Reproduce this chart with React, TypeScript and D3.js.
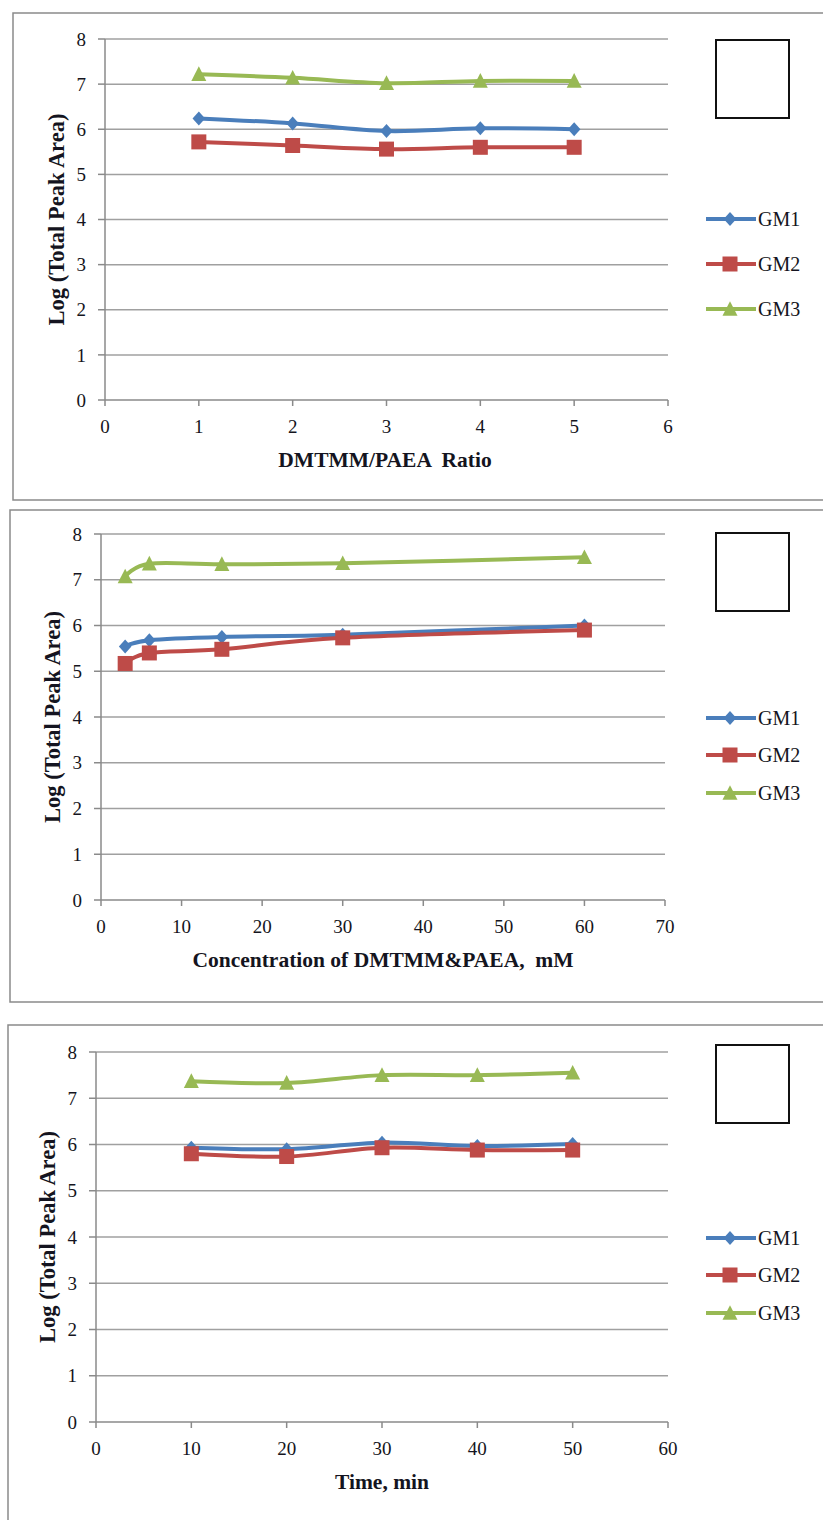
import React from "react";
import * as d3 from "d3";

const seriesNames = ["GM1", "GM2", "GM3"];
const colors = ["#4A7EBB", "#BE4B48", "#98B954"];

// Panel 1: DMTMM/PAEA ratio
const ratioX = [1, 2, 3, 4, 5];
const ratioGM1 = [6.24, 6.13, 5.96, 6.02, 6.0];
const ratioGM2 = [5.72, 5.64, 5.56, 5.6, 5.6];
const ratioGM3 = [7.22, 7.14, 7.02, 7.07, 7.07];
const ratioTicks = [0, 1, 2, 3, 4, 5, 6];

// Panel 2: concentration
const concX = [3, 6, 15, 30, 60];
const concGM1 = [5.54, 5.68, 5.75, 5.8, 6.0];
const concGM2 = [5.17, 5.4, 5.48, 5.73, 5.9];
const concGM3 = [7.07, 7.35, 7.34, 7.36, 7.49];
const concTicks = [0, 10, 20, 30, 40, 50, 60, 70];

// Panel 3: time
const timeX = [10, 20, 30, 40, 50];
const timeGM1 = [5.93, 5.9, 6.04, 5.97, 6.01];
const timeGM2 = [5.8, 5.74, 5.93, 5.88, 5.88];
const timeGM3 = [7.37, 7.33, 7.5, 7.5, 7.55];
const timeTicks = [0, 10, 20, 30, 40, 50, 60];

const yTicks = [0, 1, 2, 3, 4, 5, 6, 7, 8];
const yTitle = "Log (Total Peak Area)";

const FONT = "Liberation Serif, Times New Roman, DejaVu Serif, serif";
const TXT = "#141420";

type PanelProps = {
  frame: [number, number, number, number];
  x0: number; x1: number; y0: number; y1: number;
  xMax: number;
  xTicks: number[];
  xs: number[];
  ys: number[][];
  xTitle: string;
  xTitleX: number;
  legendY: number[];
  boxY: number;
};

function marker(i: number, cx: number, cy: number, color: string, key: string) {
  if (i === 0) {
    const s = 7;
    return <path key={key} d={`M${cx},${cy - s}L${cx + s * 0.9},${cy}L${cx},${cy + s}L${cx - s * 0.9},${cy}Z`} fill={color} />;
  }
  if (i === 1) {
    const s = 7.5;
    return <rect key={key} x={cx - s} y={cy - s} width={2 * s} height={2 * s} fill={color} />;
  }
  const s = 7.5;
  return <path key={key} d={`M${cx},${cy - s * 1.05}L${cx + s},${cy + s * 0.9}L${cx - s},${cy + s * 0.9}Z`} fill={color} />;
}

function Panel(p: PanelProps) {
  const x = d3.scaleLinear().domain([0, p.xMax]).range([p.x0, p.x1]);
  const y = d3.scaleLinear().domain([0, 8]).range([p.y1, p.y0]);
  const line = d3
    .line<[number, number]>()
    .x((d) => x(d[0]))
    .y((d) => y(d[1]))
    .curve(d3.curveCatmullRom.alpha(0));
  const [fx, fy, fw, fh] = p.frame;
  const tickStyle = { fontFamily: FONT, fontSize: "19px", fill: TXT } as React.CSSProperties;
  return (
    <g>
      <rect x={fx} y={fy} width={fw} height={fh} fill="none" stroke="#8a8a8a" strokeWidth={1.5} />
      {yTicks.map((t) => (
        <g key={"y" + t}>
          {t > 0 && <line x1={p.x0} x2={p.x1} y1={y(t)} y2={y(t)} stroke="#a0a0a0" strokeWidth={1.5} />}
          <line x1={p.x0 - 7} x2={p.x0} y1={y(t)} y2={y(t)} stroke="#8a8a8a" strokeWidth={1.5} />
          <text x={p.x0 - 19} y={y(t)} dy="0.35em" textAnchor="end" style={tickStyle}>
            {t}
          </text>
        </g>
      ))}
      <line x1={p.x0} x2={p.x0} y1={p.y0} y2={p.y1} stroke="#8a8a8a" strokeWidth={1.5} />
      <line x1={p.x0} x2={p.x1} y1={p.y1} y2={p.y1} stroke="#8a8a8a" strokeWidth={1.5} />
      {p.xTicks.map((t) => (
        <g key={"x" + t}>
          <line x1={x(t)} x2={x(t)} y1={p.y1} y2={p.y1 + 6} stroke="#8a8a8a" strokeWidth={1.5} />
          <text x={x(t)} y={p.y1 + 33} textAnchor="middle" style={tickStyle}>
            {t}
          </text>
        </g>
      ))}
      <text
        x={p.xTitleX}
        y={p.y1 + 67}
        textAnchor="middle"
        style={{ fontFamily: FONT, fontSize: "21.5px", fontWeight: "bold", fill: TXT, whiteSpace: "pre" }}
      >
        {p.xTitle}
      </text>
      <text
        transform={`translate(${p.x0 - 49},${(p.y0 + p.y1) / 2}) rotate(-90)`}
        textAnchor="middle"
        dy="0.35em"
        style={{ fontFamily: FONT, fontSize: "22.5px", fontWeight: "bold", fill: TXT }}
      >
        {yTitle}
      </text>
      {p.ys.map((vals, i) => {
        const pts: [number, number][] = p.xs.map((xv, j) => [xv, vals[j]]);
        return (
          <g key={"s" + i}>
            <path d={line(pts) || ""} fill="none" stroke={colors[i]} strokeWidth={4} />
            {pts.map((d, j) => marker(i, x(d[0]), y(d[1]), colors[i], `m${i}-${j}`))}
          </g>
        );
      })}
      {seriesNames.map((n, i) => (
        <g key={"l" + n}>
          <line x1={706} x2={756} y1={p.legendY[i]} y2={p.legendY[i]} stroke={colors[i]} strokeWidth={4} />
          {marker(i, 730, p.legendY[i], colors[i], "lm" + i)}
          <text x={758} y={p.legendY[i]} dy="0.35em" style={{ fontFamily: FONT, fontSize: "20px", fill: TXT }}>
            {n}
          </text>
        </g>
      ))}
      <rect x={716} y={p.boxY} width={73} height={78} fill="#fff" stroke="#111" strokeWidth={2} />
    </g>
  );
}

export default function App() {
  return (
    <svg
      width={823}
      height={1520}
      style={{ position: "absolute", left: 0, top: 0, background: "#fff" }}
    >
      <rect x={0} y={0} width={823} height={1520} fill="#fff" />
      <Panel
        frame={[13, 13, 820, 487]}
        x0={105} x1={668} y0={39} y1={400}
        xMax={6}
        xTicks={ratioTicks}
        xs={ratioX}
        ys={[ratioGM1, ratioGM2, ratioGM3]}
        xTitle="DMTMM/PAEA  Ratio"
        xTitleX={385}
        legendY={[219, 264, 309]}
        boxY={40}
      />
      <Panel
        frame={[10, 510, 823, 492]}
        x0={101} x1={665} y0={534} y1={900}
        xMax={70}
        xTicks={concTicks}
        xs={concX}
        ys={[concGM1, concGM2, concGM3]}
        xTitle="Concentration of DMTMM&PAEA,  mM"
        xTitleX={383}
        legendY={[718, 755, 793]}
        boxY={533}
      />
      <Panel
        frame={[8, 1025, 825, 500]}
        x0={96} x1={668} y0={1052} y1={1422}
        xMax={60}
        xTicks={timeTicks}
        xs={timeX}
        ys={[timeGM1, timeGM2, timeGM3]}
        xTitle="Time, min"
        xTitleX={382}
        legendY={[1238, 1275, 1313]}
        boxY={1045}
      />
    </svg>
  );
}
